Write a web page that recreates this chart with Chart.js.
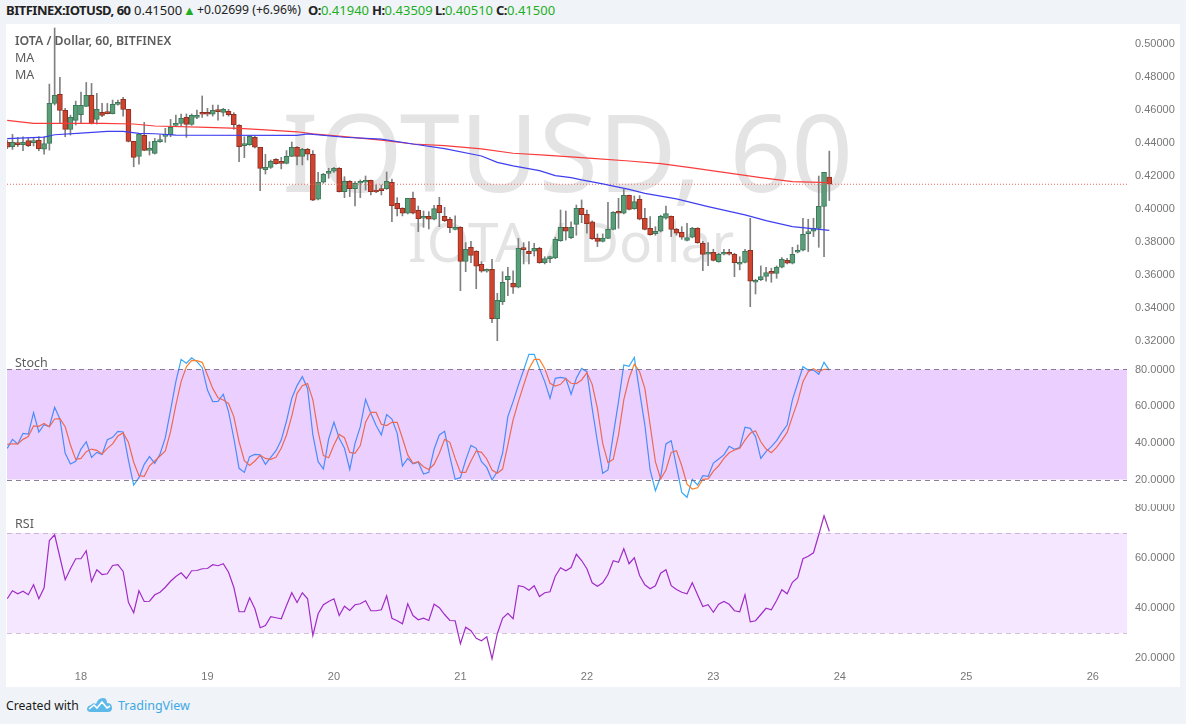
<!DOCTYPE html>
<html>
<head>
<meta charset="utf-8">
<title>IOTUSD, 60</title>
<script src="https://cdn.jsdelivr.net/npm/chart.js@4/dist/chart.umd.min.js"></script>
<style>
    html, body { margin: 0; padding: 0; background: #f0f3f7; overflow: hidden; }
    #page { position: relative; width: 1186px; height: 724px; font-family: "Noto Sans", sans-serif; }
    #panel { position: absolute; left: 6px; top: 24px; width: 1174px; height: 663px; background: #fff; }
    canvas { position: absolute; left: 7px; }
    .txt { position: absolute; white-space: nowrap; color: #5d5d5d; font-size: 12.5px; line-height: 16px; }
    .mark { position: absolute; white-space: nowrap; color: #e4e4e4; line-height: 1; font-family: "Noto Sans", sans-serif; }
    .head { top: 2px; color: #222; font-size: 13px; }
    .head b { font-weight: 700; letter-spacing: -0.5px; }
    .head i { font-style: normal; color: #1fae1f; }
</style>
</head>
<body>
<div id="page">
    <div id="panel"></div>
    <div class="mark" style="left:282px;top:97px;font-size:108px;">IOTUSD, 60</div>
    <div class="mark" style="left:408px;top:213px;font-size:55px;">IOTA / Dollar</div>

    <canvas id="priceChart" width="1173" height="324" style="top:24px"></canvas>
    <canvas id="stochChart" width="1173" height="155" style="top:349px"></canvas>
    <canvas id="rsiChart" width="1173" height="183" style="top:504px"></canvas>

    <div class="txt head" style="left:6px"><b>BITFINEX:IOTUSD, 60</b></div>
    <div class="txt head" style="left:134px">0.41500</div>
    <div class="txt head" style="left:183px"><i>▲</i></div>
    <div class="txt head" style="left:197px;font-size:12.2px">+0.02699 (+6.96%)</div>
    <div class="txt head" style="left:308px"><b>O:</b><i>0.41940</i></div>
    <div class="txt head" style="left:372px"><b>H:</b><i>0.43509</i></div>
    <div class="txt head" style="left:435px"><b>L:</b><i>0.40510</i></div>
    <div class="txt head" style="left:496px"><b>C:</b><i>0.41500</i></div>
    <div class="txt" style="left:15px;top:33px;font-weight:600;font-size:12.3px">IOTA / Dollar, 60, BITFINEX</div>
    <div class="txt" style="left:15px;top:50px">MA</div>
    <div class="txt" style="left:15px;top:67px">MA</div>
    <div class="txt" style="left:15px;top:355px">Stoch</div>
    <div class="txt" style="left:15px;top:516px">RSI</div>

    <div class="txt" style="left:6px;top:698px;color:#1a1a1a;font-size:12.2px">Created with</div>
    <svg style="position:absolute;left:87px;top:697px" width="26" height="16" viewBox="0 0 26 16">
        <path fill="#5cb9ea" d="M4 15 Q0 15 0 12 Q0 9 4 8 Q6 5 9 7 Q11 1 16 1 Q20 1 20 6 Q25 6 25 11 Q25 15 21 15 Z"/>
        <path fill="none" stroke="#fff" stroke-width="1.6" d="M2 12 L7 8 L10 11 L15 5 L20 11 L23 9"/>
    </svg>
    <div class="txt" style="left:118px;top:698px;color:#3fa9e6;">TradingView</div>
</div>

<script>
// hourly candles
const opens = [
    .4406,.4378,.4398,.4390,.4414,.4402,.4416,.4362,.4398,.4640,
    .4695,.4598,.4483,.4537,.4572,.4622,.4689,.4543,.4586,.4586,
    .4578,.4634,.4664,.4604,.4410,.4319,.4446,.4355,.4337,.4408,
    .4440,.4450,.4507,.4519,.4555,.4513,.4555,.4580,.4580,.4574,
    .4596,.4586,.4592,.4574,.4507,.4384,.4390,.4434,.4374,.4238,
    .4252,.4301,.4283,.4277,.4319,.4374,.4319,.4362,.4332,.4059,
    .4162,.4216,.4229,.4247,.4105,.4168,.4123,.4156,.4162,.4174,
    .4109,.4119,.4123,.4162,.4035,.4004,.3974,.4065,.3992,.3944,
    .3956,.3938,.4022,.3956,.3938,.3877,.3889,.3683,.3768,.3744,
    .3665,.3623,.3635,.3336,.3439,.3572,.3550,.3526,.3764,.3744,
    .3744,.3762,.3675,.3699,.3703,.3808,.3889,.3827,.3907,.4004,
    .3968,.3923,.3824,.3804,.3822,.3877,.3982,.3974,.4083,.4002,
    .4059,.3944,.3883,.3851,.3865,.3944,.3956,.3877,.3859,.3810,
    .3829,.3883,.3792,.3726,.3738,.3681,.3726,.3732,.3726,.3665,
    .3677,.3750,.3556,.3572,.3592,.3616,.3610,.3647,.3689,.3671,
    .3738,.3750,.3851,.3865,.3883,.4016,.4194
];
const closes = [
    .4374,.4404,.4390,.4404,.4384,.4414,.4366,.4396,.4640,.4689,
    .4598,.4483,.4555,.4628,.4628,.4689,.4519,.4604,.4567,.4578,
    .4634,.4646,.4604,.4410,.4313,.4454,.4355,.4361,.4410,.4416,
    .4452,.4495,.4519,.4549,.4513,.4567,.4561,.4574,.4574,.4598,
    .4590,.4604,.4572,.4511,.4378,.4388,.4440,.4374,.4246,.4252,
    .4289,.4275,.4277,.4319,.4374,.4319,.4362,.4332,.4053,.4162,
    .4210,.4224,.4247,.4105,.4168,.4123,.4156,.4162,.4174,.4105,
    .4103,.4111,.4168,.4020,.4002,.3974,.4065,.3974,.3942,.3956,
    .3938,.4002,.3978,.3930,.3887,.3889,.3683,.3756,.3719,.3653,
    .3623,.3635,.3336,.3447,.3556,.3592,.3526,.3762,.3754,.3730,
    .3762,.3675,.3699,.3703,.3816,.3889,.3865,.3889,.4004,.3966,
    .3911,.3820,.3804,.3822,.3877,.3980,.3974,.4083,.3998,.4045,
    .3938,.3877,.3845,.3865,.3956,.3972,.3877,.3853,.3829,.3827,
    .3883,.3796,.3724,.3738,.3689,.3726,.3738,.3726,.3675,.3677,
    .3744,.3562,.3568,.3590,.3614,.3610,.3647,.3695,.3671,.3726,
    .3750,.3847,.3863,.3883,.4016,.4222,.4150
];
const highs = [
    .4418,.4452,.4434,.4438,.4432,.4434,.4438,.4438,.4757,.5097,
    .4798,.4610,.4569,.4654,.4709,.4767,.4761,.4701,.4640,.4640,
    .4660,.4660,.4677,.4604,.4410,.4458,.4525,.4408,.4428,.4448,
    .4489,.4543,.4569,.4576,.4576,.4576,.4600,.4685,.4610,.4630,
    .4630,.4610,.4604,.4584,.4511,.4438,.4444,.4442,.4374,.4331,
    .4297,.4305,.4313,.4354,.4406,.4378,.4368,.4368,.4354,.4222,
    .4216,.4247,.4253,.4251,.4196,.4172,.4166,.4176,.4200,.4176,
    .4146,.4146,.4224,.4182,.4069,.4008,.4065,.4103,.4018,.3988,
    .3984,.4022,.4071,.4010,.3950,.3958,.3893,.3796,.3804,.3748,
    .3681,.3637,.3695,.3489,.3620,.3647,.3625,.3822,.3796,.3802,
    .3792,.3768,.3711,.3715,.3829,.3994,.3988,.3923,.4024,.4055,
    .3994,.3928,.3849,.3849,.4041,.3984,.4065,.4119,.4085,.4079,
    .4081,.4004,.3954,.3893,.3962,.4018,.3958,.3883,.3893,.3913,
    .3889,.3887,.3804,.3796,.3756,.3732,.3756,.3756,.3732,.3711,
    .3756,.3944,.3574,.3655,.3647,.3641,.3655,.3705,.3701,.3768,
    .3782,.3944,.3938,.3944,.4200,.4222,.43509
];
const lows = [
    .4365,.4361,.4378,.4353,.4378,.4382,.4353,.4333,.4357,.4630,
    .4519,.4438,.4448,.4509,.4519,.4620,.4515,.4515,.4559,.4576,
    .4576,.4630,.4563,.4406,.4256,.4271,.4353,.4327,.4333,.4404,
    .4404,.4438,.4499,.4503,.4434,.4507,.4547,.4555,.4563,.4563,
    .4539,.4563,.4563,.4483,.4287,.4311,.4386,.4370,.4111,.4212,
    .4246,.4271,.4243,.4273,.4317,.4267,.4267,.4297,.4051,.4055,
    .4156,.4186,.4222,.4103,.4069,.4075,.4018,.4069,.4115,.4085,
    .4099,.4085,.4119,.3923,.3958,.3958,.3970,.3970,.3863,.3889,
    .3879,.3934,.3893,.3923,.3857,.3873,.3505,.3620,.3675,.3517,
    .3617,.3617,.3311,.3202,.3421,.3475,.3489,.3522,.3667,.3667,
    .3715,.3671,.3667,.3675,.3699,.3804,.3812,.3820,.3841,.3917,
    .3853,.3816,.3772,.3800,.3820,.3873,.3883,.3970,.3994,.3998,
    .3934,.3873,.3841,.3841,.3861,.3938,.3833,.3841,.3816,.3806,
    .3825,.3792,.3627,.3657,.3685,.3677,.3721,.3721,.3590,.3631,
    .3673,.3408,.3485,.3566,.3562,.3556,.3580,.3643,.3667,.3667,
    .3734,.3746,.3742,.3833,.3768,.3711,.40510
];

// the two moving averages, read at the candles named in the *At lists
const maRedAt = [0,5,18,24,28,38,44,49,55,58,64,71,77,83,90,96,102,109,111,118,124,130,137,143,149,156];
const maRed = [.4537,.4519,.4519,.4515,.4503,.4495,.4489,.4479,.4468,.4455,.4439,.4418,.4394,.4384,.4364,.4338,.4327,.4311,.4307,.4291,.4275,.4249,.4218,.4190,.4166,.4160];
const maBlueAt = [0,7,9,14,19,22,25,28,32,55,57,64,71,77,83,90,93,96,101,104,107,109,113,118,121,127,133,140,144,149,156];
const maBlue = [.4426,.4436,.4450,.4460,.4470,.4470,.4458,.4456,.4448,.4446,.4455,.4435,.4424,.4394,.4366,.4321,.4283,.4261,.4233,.4202,.4190,.4176,.4152,.4119,.4095,.4061,.4014,.3964,.3930,.3893,.3871];
const lastPrice = 0.415;

const stochK = [
    37,41.9,39.4,45.2,44.8,56.5,45.9,49.9,48.8,59.4,
    53,34.3,28.5,29.9,36.6,40.6,32.1,34.8,33.7,41.7,
    43,46.3,45.9,30.6,17,21,28.3,32.5,28.8,33.9,
    42.8,57.9,73.4,85.4,83.4,86.4,84.3,81,68.8,62.5,
    62.6,66.5,57,42.5,26.1,23.9,32.5,33.7,33.4,28.3,
    32.1,35.7,41.5,51.9,64.3,71.2,76.1,69.7,44.3,29.7,
    25.7,42.1,51.2,42.5,37,25.5,39.7,48.8,63.7,56.1,
    49.4,44.3,55.4,53,45.2,27.4,31.5,28.5,29.4,23,
    23.9,36.5,44.3,46.3,32.5,20.1,21,30.6,38.6,37,
    29.7,26.6,19.7,24.3,34.3,54.3,62.5,71.5,79.7,88.3,
    88.3,80.6,73.4,64.3,75.2,75.7,75.2,66.5,75.2,80.6,
    78.8,58.8,40.6,23.4,25.2,44.3,62.5,82.5,81.7,86.6,
    67.9,49.7,25.2,13.9,21.5,39.4,41.2,27,13,10.3,
    20.1,17,22.1,21.7,29,31.2,33.4,38.1,36.5,37.4,
    48.5,47.9,43.4,31.5,35.2,37.9,41.2,45.7,49.7,63.4,
    72.5,81.5,79.7,79.7,77.4,83.9,79.7
];
const stochD = [
    39.2,39.5,39.4,41.9,43.4,49.2,49,50.6,48.8,53,
    53.2,48.8,38.8,31,31.5,35.2,36.6,35.9,33.9,37,
    39.4,43.7,45.4,40.3,29.4,22.1,21.7,27.5,30.1,32.8,
    35.6,46.1,60.6,73.4,81.5,85,84.8,83.9,77,69.7,
    64.6,63.4,61.5,54.3,40.6,30.3,27.7,30.1,33.2,31.5,
    31,32.1,37,44.3,54.6,67,71.2,72.3,63.4,46.1,
    33,31.9,38.8,44.6,42.8,34.8,34.3,38.5,51.2,56.6,
    56.6,50.1,49.4,51.2,51.2,42.5,33.4,28.8,29.7,27,
    25.5,28.3,34.3,41.9,40.3,31.5,23.9,23.9,30.1,35.6,
    34.8,31.2,25.2,23.4,25.7,38.8,52.5,62.5,71.5,80.3,
    85.5,85.5,80.6,72.5,71,71.9,75,72.5,72.3,74.3,
    78.3,71.9,58.8,39.7,29.2,31,44.3,63.4,75.2,83,
    78.8,69.7,49.7,29.7,20.3,25.2,34.8,35.7,27.5,17.4,
    14.8,15.5,20.1,20.3,24.6,27.5,31.5,34.6,36.1,37,
    41.5,45.2,46.6,40.6,36.6,34.6,37.5,41.5,45.7,54.3,
    62.5,73.4,78.8,80.5,78.8,80.1,80.1
];
const rsiValues = [
    43.7,46.9,45.7,46.7,45.3,49.3,43.7,48.1,67,69.3,
    60.3,51.3,55.7,59.7,59.7,62.9,50.6,55.3,53.4,53.7,
    57,57.3,54.6,42.3,38.1,46.9,42.6,42.7,45.3,46.3,
    48.3,50.7,52.6,54.1,51.8,54.9,55,55.7,55.8,57.3,
    56.9,57.7,54.3,48.3,38.5,38.5,44.1,39.7,32.1,33,
    36.5,36.1,35.7,41,46.1,42.2,46.1,43.7,29,37.7,
    41.3,42.6,43.7,37,40.7,39,41.3,41.7,42.9,38.9,
    38.9,39.3,44.9,35.9,34.9,33.7,41.7,37,35.3,35.9,
    35,41.5,40.1,37.4,35,34.9,25.7,32.3,30.9,27.9,
    26.9,28.5,19.7,29.7,35.9,37.9,35.7,48.9,48.5,47.1,
    48.9,44.6,46.1,46.5,52.7,56.1,54.9,56.2,61.5,59,
    55.7,50.1,48.7,50.1,53.4,58.9,58.3,63.7,57.7,60.1,
    53,49.3,47.7,48.9,53.9,55.3,48.9,47.4,46.3,45.7,
    50.1,45.3,40.6,41.3,38.3,41.5,42.6,41.5,38.9,38.5,
    45.3,34.5,34.9,37.4,39.9,39.3,43,47.3,45.7,50.3,
    52.1,59.7,60.7,62.1,69.3,76.9,70.7
];

const priceTicks = [.32,.34,.36,.38,.40,.42,.44,.46,.48,.50];
const stochTicks = [20,40,60,80];
const rsiTicks = [20,40,60,80];
const stochBand = [20,80];
const rsiBand = [30,70];
// candle number of each midnight and the day it starts
const dayAt = [14,38,62,86,110,134,158,182,206];
const dayLabels = ['18','19','20','21','22','23','24','25','26'];

const xMin = -0.04;
const xMax = 212.49;

function asPoints(values, at) {
    return values.map((v, i) => ({ x: at ? at[i] : i, y: v }));
}

function lineSet(points, color, order) {
    return { type: 'line', data: points, borderColor: color, borderWidth: 1.2, pointRadius: 0, tension: 0, order: order };
}

// the shaded zone sits over the lines, they show through it
function bandPlugin(band, fill, dash) {
    return {
        id: 'band',
        afterDatasetsDraw(chart) {
            const { ctx, chartArea, scales } = chart;
            const top = scales.y.getPixelForValue(band[1]);
            const bottom = scales.y.getPixelForValue(band[0]);
            ctx.save();
            ctx.fillStyle = fill;
            ctx.fillRect(chartArea.left, top, chartArea.right - chartArea.left, bottom - top);
            ctx.strokeStyle = dash;
            ctx.lineWidth = 1;
            ctx.setLineDash([5, 4]);
            [top, bottom].forEach(y => {
                ctx.beginPath();
                ctx.moveTo(chartArea.left, Math.round(y) + 0.5);
                ctx.lineTo(chartArea.right, Math.round(y) + 0.5);
                ctx.stroke();
            });
            ctx.restore();
        }
    };
}

function paneOptions(yMin, yMax, yTicks, digits, showDays) {
    return {
        responsive: false,
        animation: false,
        layout: { padding: 0 },
        plugins: { legend: { display: false }, tooltip: { enabled: false } },
        scales: {
            x: {
                type: 'linear',
                min: xMin,
                max: xMax,
                offset: false,
                display: showDays,
                grid: { display: false, drawTicks: false },
                border: { display: false },
                afterBuildTicks: s => { s.ticks = dayAt.map(v => ({ value: v })); },
                afterFit: s => { s.height = showDays ? 22 : 0; s.paddingLeft = 0; s.paddingRight = 0; },
                ticks: {
                    autoSkip: false,
                    maxRotation: 0,
                    padding: 5,
                    color: '#777',
                    font: { family: 'Liberation Sans', size: 11 },
                    callback: v => dayLabels[dayAt.indexOf(v)]
                }
            },
            y: {
                position: 'right',
                min: yMin,
                max: yMax,
                grid: { display: false, drawTicks: false },
                border: { display: false },
                afterBuildTicks: s => { s.ticks = yTicks.map(v => ({ value: v })); },
                afterFit: s => { s.width = 53; s.paddingTop = 0; s.paddingBottom = 0; },
                ticks: {
                    autoSkip: false,
                    padding: 8,
                    color: '#777',
                    font: { family: 'Liberation Sans', size: 11 },
                    callback: v => v.toFixed(digits)
                }
            }
        }
    };
}

const candleUp = i => closes[i] >= opens[i];

new Chart(document.getElementById('priceChart'), {
    data: {
        datasets: [
            {
                type: 'bar',
                data: opens.map((o, i) => ({ x: i, y: [lows[i], highs[i]] })),
                backgroundColor: '#808080',
                barThickness: 1,
                grouped: false,
                order: 3
            },
            {
                type: 'bar',
                data: opens.map((o, i) => ({ x: i, y: [o, closes[i]] })),
                backgroundColor: c => candleUp(c.dataIndex) ? '#5b9c79' : '#cf432f',
                borderColor: c => candleUp(c.dataIndex) ? '#3b7a59' : '#8f3022',
                borderWidth: 1,
                borderSkipped: false,
                barThickness: 5,
                minBarLength: 2,
                grouped: false,
                order: 2
            },
            lineSet(asPoints(maRed, maRedAt), '#f83c3c', 1),
            lineSet(asPoints(maBlue, maBlueAt), '#3f3ff0', 0),
            Object.assign(lineSet([{ x: xMin, y: lastPrice }, { x: xMax, y: lastPrice }], '#ec6a5e', 0), { borderWidth: 1, borderDash: [1, 2] })
        ]
    },
    options: paneOptions(.31576, .51212, priceTicks, 5, false)
});

new Chart(document.getElementById('stochChart'), {
    data: {
        datasets: [
            lineSet(asPoints(stochK), '#38a8f8', 1),
            lineSet(asPoints(stochD), '#ff7f2a', 0)
        ]
    },
    options: paneOptions(6.64, 91.18, stochTicks, 4, false),
    plugins: [bandPlugin(stochBand, 'rgba(153,21,255,0.2)', 'rgba(110,95,125,0.8)')]
});

new Chart(document.getElementById('rsiChart'), {
    data: {
        datasets: [
            lineSet(asPoints(rsiValues), '#a02fc0', 0)
        ]
    },
    options: paneOptions(17.2, 81.6, rsiTicks, 4, true),
    plugins: [bandPlugin(rsiBand, 'rgba(153,21,255,0.1)', 'rgba(170,130,180,0.5)')]
});
</script>
</body>
</html>
